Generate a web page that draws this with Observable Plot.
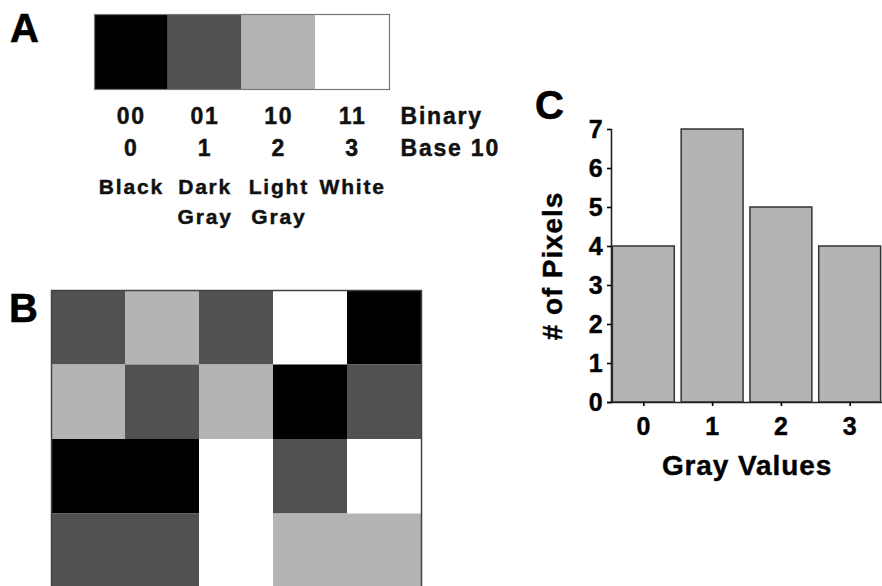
<!DOCTYPE html>
<html>
<head>
<meta charset="utf-8">
<script src="https://cdn.jsdelivr.net/npm/d3@7"></script>
<script src="https://cdn.jsdelivr.net/npm/@observablehq/plot@0.6"></script>
<style>
  html, body { margin: 0; padding: 0; background: #fff; overflow: hidden; }
  #root { position: relative; width: 882px; height: 586px; overflow: hidden;
          font-family: "Liberation Sans", Arial, sans-serif; }
  .panel { position: absolute; }
  .panel svg { display: block; }
  .letter { position: absolute; font-weight: bold; font-size: 40px; line-height: 1; color: #000;
            -webkit-text-stroke: 0.6px #000; }
  #root svg text { stroke: #111; stroke-width: 0.45px; }
  #pa svg text { letter-spacing: 1.8px; }
  #pc svg text { letter-spacing: 0.9px; }
</style>
</head>
<body>
<div id="root">
  <div class="panel" id="pa" style="left:0;top:0"></div>
  <div class="panel" id="pb" style="left:0;top:270px"></div>
  <div class="panel" id="pc" style="left:520px;top:80px"></div>
  <div class="letter" style="left:10px;top:8px">A</div>
  <div class="letter" style="left:9px;top:288px">B</div>
  <div class="letter" style="left:535px;top:85px">C</div>
</div>
<script>
// ---- data ----
const grayLevels   = [0, 1, 2, 3];
const grayColors   = ["#000000", "#515151", "#b4b4b4", "#ffffff"];
const binaryLabels = ["00", "01", "10", "11"];
const base10Labels = ["0", "1", "2", "3"];
const nameLabels   = ["Black", "Dark\nGray", "Light\nGray", "White"];
const rowLabels    = ["Binary", "Base 10"];
// 4 x 5 image of gray values (panel B)
const imageRow1 = [1, 2, 1, 3, 0];
const imageRow2 = [2, 1, 2, 0, 1];
const imageRow3 = [0, 0, 3, 1, 3];
const imageRow4 = [1, 1, 3, 2, 2];
const imageColumns = [0, 1, 2, 3, 4];
const imageRowIds  = [0, 1, 2, 3];
// histogram (panel C)
const pixelCounts = [4, 7, 5, 4];
const yTicks = [0, 1, 2, 3, 4, 5, 6, 7];
const xTitle = "Gray Values";
const yTitle = "# of Pixels";

const FONT = '"Liberation Sans", Arial, sans-serif';

const imageRows = [imageRow1, imageRow2, imageRow3, imageRow4];
const pixels = imageRows.flatMap((r, i) => r.map((v, j) => ({row: i, col: j, v})));
const hist = grayLevels.map((g, i) => ({g, n: pixelCounts[i]}));

// ---- Panel A ----
const pa = Plot.plot({
  width: 520, height: 240,
  marginTop: 14, marginBottom: 151, marginLeft: 94, marginRight: 131,
  x: {type: "band", domain: grayLevels, padding: 0, round: false, axis: null},
  color: {type: "ordinal", domain: grayLevels, range: grayColors},
  style: {fontFamily: FONT, fontWeight: "bold", color: "#000", background: "transparent"},
  marks: [
    Plot.cell(grayLevels, {x: d => d, fill: d => d, inset: 0}),
    Plot.frame({stroke: "#777", strokeWidth: 1.2}),
    Plot.text(grayLevels, {x: d => d, text: d => binaryLabels[d], frameAnchor: "bottom",
      lineAnchor: "top", dy: 18, fontSize: 23, fill: "#111"}),
    Plot.text(grayLevels, {x: d => d, text: d => base10Labels[d], frameAnchor: "bottom",
      lineAnchor: "top", dy: 50, fontSize: 23, fill: "#111"}),
    Plot.text(grayLevels, {x: d => d, text: d => nameLabels[d], frameAnchor: "bottom",
      lineAnchor: "top", dy: 83, fontSize: 21, lineHeight: 1.43, fill: "#111"}),
    Plot.text([rowLabels[0]], {frameAnchor: "bottom-right", textAnchor: "start",
      lineAnchor: "top", dx: 11, dy: 18, fontSize: 23, fill: "#111"}),
    Plot.text([rowLabels[1]], {frameAnchor: "bottom-right", textAnchor: "start",
      lineAnchor: "top", dx: 11, dy: 50, fontSize: 23, fill: "#111"})
  ]
});
document.getElementById("pa").append(pa);

// ---- Panel B ----
const pb = Plot.plot({
  width: 440, height: 318,
  marginTop: 20, marginBottom: 0, marginLeft: 51, marginRight: 19,
  x: {type: "band", domain: imageColumns, padding: 0, round: false, axis: null},
  y: {type: "band", domain: imageRowIds, padding: 0, round: false, axis: null},
  color: {type: "ordinal", domain: grayLevels, range: grayColors},
  style: {background: "transparent"},
  marks: [
    Plot.cell(pixels, {x: "col", y: "row", fill: "v", inset: 0}),
    Plot.frame({stroke: "#444", strokeWidth: 1.5})
  ]
});
document.getElementById("pb").append(pb);

// ---- Panel C ----
const pc = Plot.plot({
  width: 362, height: 430,
  marginTop: 49, marginBottom: 108, marginLeft: 91, marginRight: 0,
  x: {type: "band", domain: grayLevels, paddingInner: 0.1, paddingOuter: 0.02, round: false},
  y: {domain: [0, 7]},
  style: {fontFamily: FONT, fontWeight: "bold", fontSize: "25px", color: "#000", background: "transparent"},
  marks: [
    Plot.barY(hist, {x: "g", y: "n", fill: "#b4b4b4", stroke: "#333", strokeWidth: 1.5}),
    Plot.frame({anchor: "left", stroke: "#222", strokeWidth: 1.6}),
    Plot.ruleY([0], {stroke: "#222", strokeWidth: 1.6, insetLeft: -4}),
    Plot.axisY(yTicks, {tickSize: 4, tickPadding: 4, strokeWidth: 1.6, label: null, fontSize: 25}),
    Plot.axisX(grayLevels, {tickSize: 4, tickPadding: 11, strokeWidth: 1.6, label: null, fontSize: 25}),
    Plot.text([xTitle], {frameAnchor: "bottom", lineAnchor: "top", dy: 53, fontSize: 28}),
    Plot.text([yTitle], {frameAnchor: "left", textAnchor: "middle", rotate: -90, dx: -58, fontSize: 28})
  ]
});
document.getElementById("pc").append(pc);
</script>
</body>
</html>
